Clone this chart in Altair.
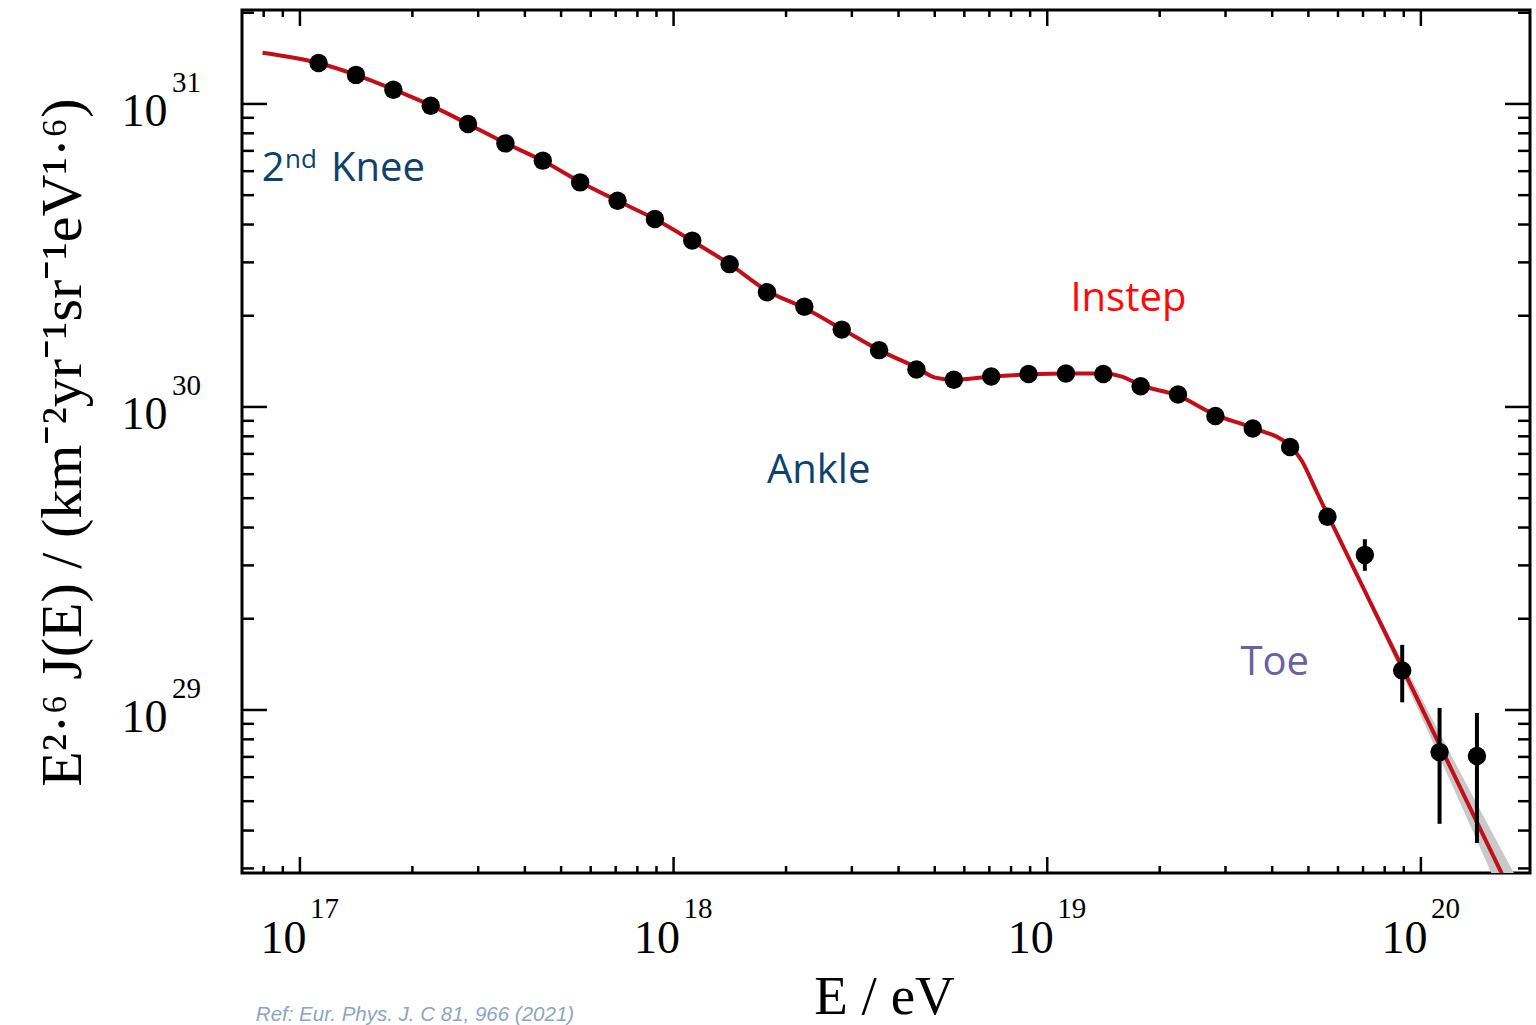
import altair as alt
import pandas as pd

# ---------------- data ----------------
logE_bins = [17.05, 17.15, 17.25, 17.35, 17.45, 17.55, 17.65, 17.75, 17.85, 17.95,
             18.05, 18.15, 18.25, 18.35, 18.45, 18.55, 18.65, 18.75, 18.85, 18.95,
             19.05, 19.15, 19.25, 19.35, 19.45, 19.55, 19.65, 19.75, 19.85, 19.95,
             20.05, 20.15]
flux = [1.365e31, 1.247e31, 1.114e31, 9.86e30, 8.59e30, 7.41e30, 6.50e30, 5.51e30,
        4.79e30, 4.17e30, 3.54e30, 2.96e30, 2.39e30, 2.14e30, 1.80e30, 1.54e30,
        1.33e30, 1.23e30, 1.26e30, 1.285e30, 1.29e30, 1.285e30, 1.17e30, 1.10e30,
        9.33e29, 8.49e29, 7.38e29, 4.34e29, 3.25e29, 1.35e29, 7.26e28, 7.05e28]
err_lo = [1.365e31, 1.247e31, 1.114e31, 9.86e30, 8.59e30, 7.41e30, 6.50e30, 5.51e30,
          4.79e30, 4.17e30, 3.54e30, 2.96e30, 2.39e30, 2.14e30, 1.80e30, 1.54e30,
          1.33e30, 1.23e30, 1.26e30, 1.285e30, 1.29e30, 1.285e30, 1.17e30, 1.10e30,
          9.33e29, 8.49e29, 7.38e29, 4.11e29, 2.88e29, 1.06e29, 4.21e28, 3.64e28]
err_hi = [1.365e31, 1.247e31, 1.114e31, 9.86e30, 8.59e30, 7.41e30, 6.50e30, 5.51e30,
          4.79e30, 4.17e30, 3.54e30, 2.96e30, 2.39e30, 2.14e30, 1.80e30, 1.54e30,
          1.33e30, 1.23e30, 1.26e30, 1.285e30, 1.29e30, 1.285e30, 1.17e30, 1.10e30,
          9.33e29, 8.49e29, 7.38e29, 4.57e29, 3.66e29, 1.64e29, 1.016e29, 9.77e28]

fit_logE = [16.90, 17.05, 17.15, 17.25, 17.35, 17.45, 17.55, 17.65, 17.75, 17.85,
            17.95, 18.05, 18.15, 18.25, 18.35, 18.45, 18.55, 18.65, 18.70, 18.75,
            18.85, 18.95, 19.05, 19.15, 19.20, 19.25, 19.35, 19.45, 19.55, 19.65,
            19.68, 19.72, 19.75, 19.95, 20.25]
fit_flux = [1.476e31, 1.365e31, 1.247e31, 1.117e31, 9.89e30, 8.59e30, 7.43e30, 6.49e30,
            5.53e30, 4.79e30, 4.17e30, 3.53e30, 2.96e30, 2.42e30, 2.12e30, 1.81e30,
            1.54e30, 1.35e30, 1.25e30, 1.23e30, 1.26e30, 1.28e30, 1.29e30, 1.29e30,
            1.26e30, 1.18e30, 1.09e30, 9.42e29, 8.53e29, 7.43e29, 6.68e29, 5.28e29,
            4.42e29, 1.38e29, 2.37e28]

band_logE = [19.75, 19.85, 19.95, 20.05, 20.15, 20.25]
band_lo = [4.36e29, 2.39e29, 1.31e29, 6.98e28, 3.71e28, 1.95e28]
band_hi = [4.48e29, 2.52e29, 1.45e29, 8.39e28, 4.89e28, 2.88e28]

x_major = [1e17, 1e18, 1e19, 1e20]
x_exp = ["17", "18", "19", "20"]
x_minor = [8e16, 9e16,
           2e17, 3e17, 4e17, 5e17, 6e17, 7e17, 8e17, 9e17,
           2e18, 3e18, 4e18, 5e18, 6e18, 7e18, 8e18, 9e18,
           2e19, 3e19, 4e19, 5e19, 6e19, 7e19, 8e19, 9e19]
y_major = [1e29, 1e30, 1e31]
y_exp = ["29", "30", "31"]
y_minor = [3e28, 4e28, 5e28, 6e28, 7e28, 8e28, 9e28,
           2e29, 3e29, 4e29, 5e29, 6e29, 7e29, 8e29, 9e29,
           2e30, 3e30, 4e30, 5e30, 6e30, 7e30, 8e30, 9e30, 2e31]

X_MIN, X_MAX = 10 ** 16.845, 10 ** 20.292
Y_MIN, Y_MAX = 10 ** 28.462, 10 ** 31.310

# annotations (data coordinates of text anchors)
ann_text = ["2", "Knee", "Ankle", "Instep", "Toe"]
ann_logE = [16.898, 17.083, 18.250, 19.062, 19.517]
ann_flux = [5.55e30, 5.55e30, 5.60e29, 2.08e30, 1.30e29]
ann_color = ["#0d426e", "#0d426e", "#0d426e", "#ff0a0a", "#6961a4"]
sup_text = ["nd"]
sup_logE = [16.960]
sup_flux = [6.15e30]

ref_text = "Ref: Eur. Phys. J. C 81, 966 (2021)"

W, H = 1288, 863

# ---------------- frames ----------------
pts = pd.DataFrame({"E": [10 ** v for v in logE_bins], "F": flux, "lo": err_lo, "hi": err_hi})
fit = pd.DataFrame({"E": [10 ** v for v in fit_logE], "F": fit_flux})
band = pd.DataFrame({"E": [10 ** v for v in band_logE], "lo": band_lo, "hi": band_hi})
xmaj = pd.DataFrame({"E": x_major, "F": [Y_MIN] * 4, "t": x_exp})
xmin_ = pd.DataFrame({"E": x_minor})
ymaj = pd.DataFrame({"E": [X_MIN] * 3, "F": y_major, "t": y_exp})
ymin_ = pd.DataFrame({"F": y_minor})
ann = pd.DataFrame({"E": [10 ** v for v in ann_logE], "F": ann_flux, "t": ann_text, "c": ann_color})
sup = pd.DataFrame({"E": [10 ** v for v in sup_logE], "F": sup_flux, "t": sup_text})
ref = pd.DataFrame({"E": [10 ** 16.882], "F": [10 ** 27.975], "t": [ref_text]})

xs = alt.Scale(type="log", domain=[X_MIN, X_MAX], nice=False)
ys = alt.Scale(type="log", domain=[Y_MIN, Y_MAX], nice=False)

SERIF = "Liberation Serif"

x_axis = alt.Axis(values=x_major, labelExpr="'10'", ticks=False, tickSize=0, domain=False,
                  grid=False, labelFont=SERIF, labelFontSize=46, labelColor="black",
                  labelPadding=79, labelBaseline="alphabetic", labelOffset=-17, labelFlush=False,
                  labelOverlap=False, title="E / eV", titleFont=SERIF, titleFontSize=55,
                  titleFontWeight="normal", titleColor="black", titleX=642, titleY=140,
                  titleBaseline="alphabetic", titleAlign="center")
y_axis = alt.Axis(values=y_major, labelExpr="'10'", ticks=False, tickSize=0, domain=False,
                  grid=False, labelFont=SERIF, labelFontSize=46, labelColor="black",
                  labelPadding=75, labelAlign="right", labelBaseline="alphabetic", labelOffset=22,
                  labelFlush=False, labelOverlap=False,
                  title="E²·⁶ J(E) / (km⁻²yr⁻¹sr⁻¹eV¹·⁶)", titleFont=SERIF, titleFontSize=58,
                  titleFontWeight="normal", titleColor="black", titleAngle=270, titleX=-162,
                  titleY=432, titleBaseline="alphabetic", titleAlign="center")


def X(field="E"):
    return alt.X(f"{field}:Q", scale=xs, axis=x_axis)


def Y(field="F"):
    return alt.Y(f"{field}:Q", scale=ys, axis=y_axis)


band_layer = alt.Chart(band).mark_area(color="#c9c9c9", clip=True).encode(
    x=X(), y=Y("lo"), y2="hi:Q")

fit_layer = alt.Chart(fit).mark_line(color="#c30d18", strokeWidth=4, clip=True,
                                     interpolate="monotone").encode(x=X(), y=Y())

err_layer = alt.Chart(pts).mark_rule(color="black", strokeWidth=4).encode(
    x=X(), y=Y("lo"), y2="hi:Q")

pt_layer = alt.Chart(pts).mark_circle(color="black", size=340, opacity=1).encode(x=X(), y=Y())

TK = dict(color="black", strokeWidth=2.5)
xt_bot_maj = alt.Chart(pd.DataFrame({"E": x_major})).mark_rule(**TK).encode(
    x=X(), y=alt.value(H), y2=alt.value(H - 16))
xt_top_maj = alt.Chart(pd.DataFrame({"E": x_major})).mark_rule(**TK).encode(
    x=X(), y=alt.value(0), y2=alt.value(16))
xt_bot_min = alt.Chart(xmin_).mark_rule(**TK).encode(
    x=X(), y=alt.value(H), y2=alt.value(H - 7))
xt_top_min = alt.Chart(xmin_).mark_rule(**TK).encode(
    x=X(), y=alt.value(0), y2=alt.value(7))
yt_l_maj = alt.Chart(pd.DataFrame({"F": y_major})).mark_rule(**TK).encode(
    y=Y(), x=alt.value(0), x2=alt.value(25))
yt_r_maj = alt.Chart(pd.DataFrame({"F": y_major})).mark_rule(**TK).encode(
    y=Y(), x=alt.value(W), x2=alt.value(W - 25))
yt_l_min = alt.Chart(ymin_).mark_rule(**TK).encode(
    y=Y(), x=alt.value(0), x2=alt.value(12))
yt_r_min = alt.Chart(ymin_).mark_rule(**TK).encode(
    y=Y(), x=alt.value(W), x2=alt.value(W - 12))

x_exp_layer = alt.Chart(xmaj).mark_text(align="left", baseline="alphabetic", dx=10, dy=45,
                                        font=SERIF, fontSize=29, color="black").encode(
    x=X(), y=Y(), text="t:N")
y_exp_layer = alt.Chart(ymaj).mark_text(align="left", baseline="alphabetic", dx=-70, dy=-12,
                                        font=SERIF, fontSize=29, color="black").encode(
    x=X(), y=Y(), text="t:N")

SANS = "Open Sans"
ann_layer = alt.Chart(ann).mark_text(align="left", baseline="alphabetic", font=SANS,
                                     fontSize=40).encode(
    x=X(), y=Y(), text="t:N", color=alt.Color("c:N", scale=None))
sup_layer = alt.Chart(sup).mark_text(align="left", baseline="alphabetic", font=SANS,
                                     fontSize=26, color="#0d426e").encode(
    x=X(), y=Y(), text="t:N")
ref_layer = alt.Chart(ref).mark_text(align="left", baseline="alphabetic", font="Liberation Sans",
                                     fontSize=20.5, fontStyle="italic", color="#8da5c2").encode(
    x=X(), y=Y(), text="t:N")

chart = alt.layer(
    band_layer, fit_layer, err_layer, pt_layer,
    xt_bot_maj, xt_top_maj, xt_bot_min, xt_top_min,
    yt_l_maj, yt_r_maj, yt_l_min, yt_r_min,
    x_exp_layer, y_exp_layer, ann_layer, sup_layer, ref_layer,
).properties(
    width=W, height=H,
    autosize=alt.AutoSizeParams(type="none"),
    padding={"left": 242, "top": 10, "right": 6, "bottom": 152},
    background="white",
).configure_view(stroke="black", strokeWidth=3)

chart.save("out.html", embed_options={"renderer": "svg", "actions": False})
